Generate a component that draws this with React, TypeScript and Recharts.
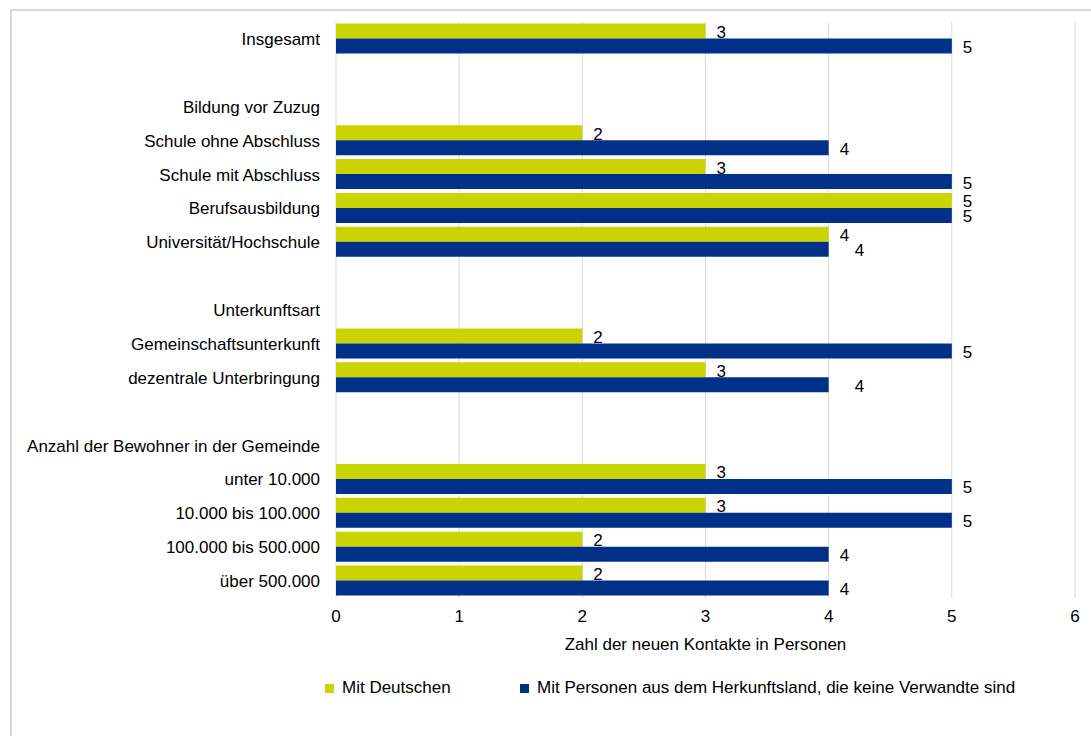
import { Bar, BarChart, CartesianGrid, LabelList, Legend, XAxis, YAxis } from 'recharts';

const categories = [
  "Insgesamt",
  "",
  "Bildung vor Zuzug",
  "Schule ohne Abschluss",
  "Schule mit Abschluss",
  "Berufsausbildung",
  "Universität/Hochschule",
  "",
  "Unterkunftsart",
  "Gemeinschaftsunterkunft",
  "dezentrale Unterbringung",
  "",
  "Anzahl der Bewohner in der Gemeinde",
  "unter 10.000",
  "10.000 bis 100.000",
  "100.000 bis 500.000",
  "über 500.000",
];

const mitDeutschen = [3, null, null, 2, 3, 5, 4, null, null, 2, 3, null, null, 3, 3, 2, 2];
const mitHerkunftsland = [5, null, null, 4, 5, 5, 4, null, null, 5, 4, null, null, 5, 5, 4, 4];

const xTicks = [0, 1, 2, 3, 4, 5, 6];

const seriesNames = ["Mit Deutschen", "Mit Personen aus dem Herkunftsland, die keine Verwandte sind"];

// rows where the original pushed the blue value label further right
const pushedBlueLabels = ["Universität/Hochschule", "dezentrale Unterbringung"];

const YELLOW = "#cbd300";
const BLUE = "#003087";
const FONT = '"Liberation Sans", Arial, sans-serif';

const data = categories.map((c, i) => ({
  id: i,
  deutsche: mitDeutschen[i],
  herkunft: mitHerkunftsland[i],
}));

// label index counts only the rows that have a bar
function makeValueLabel(values: (number | null)[], pushRows: string[]) {
  const rows = values.map((v, i) => (v == null ? -1 : i)).filter((i) => i >= 0);
  return (props: any) => {
    const { x, y, width, height, value, index } = props;
    if (value == null) return null;
    const push = pushRows.includes(categories[rows[index]]) ? 15 : 0;
    return (
      <text
        x={x + width + 11 + push}
        y={y + height / 2 + 1.5}
        dominantBaseline="central"
        fill="#000"
        fontSize={17}
        fontFamily={FONT}
      >
        {value}
      </text>
    );
  };
}

function LegendContent() {
  const item = (left: number, color: string, text: string) => (
    <div style={{ position: 'absolute', left, top: 28, display: 'flex', alignItems: 'center', whiteSpace: 'nowrap' }}>
      <span style={{ width: 9, height: 9, background: color, display: 'inline-block', marginRight: 8 }} />
      <span style={{ fontSize: 17, color: '#000', fontFamily: FONT }}>{text}</span>
    </div>
  );
  return (
    <div style={{ position: 'relative', height: 47, width: 1091 }}>
      {item(325, YELLOW, seriesNames[0])}
      {item(520, BLUE, seriesNames[1])}
    </div>
  );
}

export default function App() {
  return (
    <div style={{ position: 'fixed', left: 0, top: 0, width: 1091, height: 736, overflow: 'hidden', background: '#fff', fontFamily: FONT }}>
      <div style={{ position: 'absolute', left: 10, top: 9, width: 1200, height: 800, borderLeft: '2px solid #d9d9d9', borderTop: '2px solid #d9d9d9' }} />
      <div style={{ position: 'absolute', left: 0, top: 0 }}>
        <BarChart
          width={1091}
          height={736}
          data={data}
          layout="vertical"
          margin={{ top: 22, right: 16, bottom: 39, left: 0 }}
          barCategoryGap={1.5}
          barGap={0}
        >
          <CartesianGrid horizontal={false} stroke="#d9d9d9" strokeWidth={1} />
          <XAxis
            type="number"
            domain={[0, 6]}
            ticks={xTicks}
            axisLine={false}
            tickLine={false}
            tickSize={6}
            tickMargin={6}
            height={52}
            tick={{ fill: '#000', fontSize: 17, fontFamily: FONT }}
            label={{ value: "Zahl der neuen Kontakte in Personen", position: 'insideBottom', offset: 0, fill: '#000', fontSize: 17, fontFamily: FONT }}
          />
          <YAxis
            type="category"
            dataKey="id"
            width={336}
            interval={0}
            axisLine={false}
            tickLine={false}
            tickSize={6}
            tickMargin={10}
            tickFormatter={(i: number) => categories[i]}
            tick={{ fill: '#000', fontSize: 17, fontFamily: FONT }}
          />
          <Legend verticalAlign="bottom" content={<LegendContent />} wrapperStyle={{ left: 0, width: 1091 }} />
          <Bar dataKey="deutsche" name={seriesNames[0]} fill={YELLOW} isAnimationActive={false}>
            <LabelList dataKey="deutsche" content={makeValueLabel(mitDeutschen, [])} />
          </Bar>
          <Bar dataKey="herkunft" name={seriesNames[1]} fill={BLUE} isAnimationActive={false}>
            <LabelList dataKey="herkunft" content={makeValueLabel(mitHerkunftsland, pushedBlueLabels)} />
          </Bar>
        </BarChart>
      </div>
    </div>
  );
}
